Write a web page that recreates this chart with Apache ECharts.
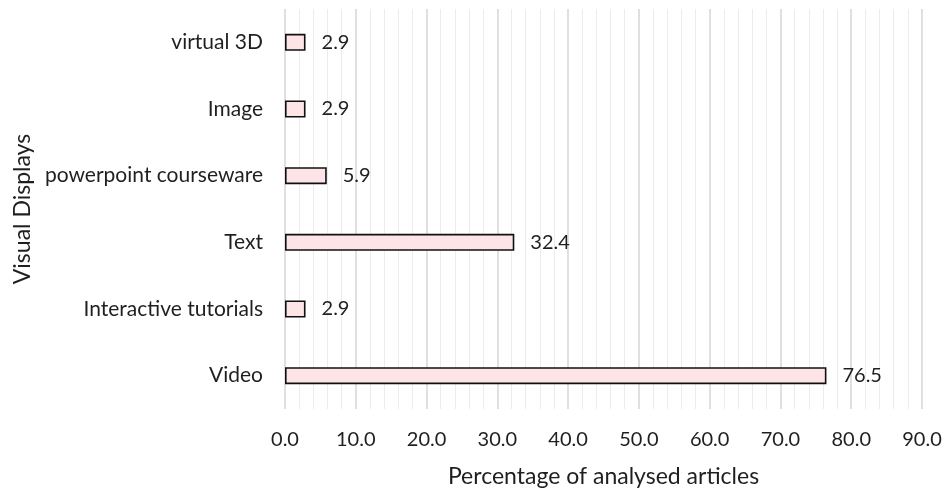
<!DOCTYPE html>
<html><head><meta charset="utf-8">
<script src="https://cdn.jsdelivr.net/npm/echarts@6/dist/echarts.min.js"></script>
<style>html,body{margin:0;padding:0;background:#fff}#c{width:943px;height:489px}</style>
</head><body><div id="c"></div>
<script>
const categories = ['Video', 'Interactive tutorials', 'Text', 'powerpoint courseware', 'Image', 'virtual 3D'];
const values = [76.5, 2.9, 32.4, 5.9, 2.9, 2.9];
const xTicks = { min: 0, max: 90, interval: 10 };
const FONT = 'Lato';
const TXT = '#1f1f1f';
const chart = echarts.init(document.getElementById('c'), null, { renderer: 'canvas' });
chart.setOption({
  animation: false,
  grid: { left: 285, right: 21, top: 9, bottom: 80, containLabel: false, outerBoundsMode: 'none' },
  xAxis: {
    type: 'value', min: xTicks.min, max: xTicks.max, interval: xTicks.interval,
    name: 'Percentage of analysed articles', nameLocation: 'middle', nameGap: 56,
    nameTextStyle: { fontFamily: FONT, fontSize: 23, color: TXT },
    axisLine: { show: false }, axisTick: { show: false },
    axisLabel: { fontFamily: FONT, fontSize: 20, color: TXT, margin: 21, formatter: v => v.toFixed(1) },
    splitLine: { show: true, lineStyle: { color: '#d6d6d6', width: 1.5 } },
    minorTick: { show: false, splitNumber: 5 },
    minorSplitLine: { show: true, lineStyle: { color: '#ececec', width: 1 } }
  },
  yAxis: {
    type: 'category', data: categories,
    name: 'Visual Displays', nameLocation: 'middle', nameGap: 250, nameRotate: 90,
    nameTextStyle: { fontFamily: FONT, fontSize: 23, color: TXT },
    axisLine: { show: false }, axisTick: { show: false },
    axisLabel: { fontFamily: FONT, fontSize: 21, color: TXT, margin: 22 },
    splitLine: { show: false }
  },
  series: [{
    type: 'bar', data: values, barWidth: 17,
    itemStyle: { color: '#fde4e6', borderColor: '#111', borderWidth: 1.6 },
    label: { show: true, position: 'right', distance: 16, fontFamily: FONT, fontSize: 20, color: TXT, formatter: p => p.value.toFixed(1) }
  }]
});
</script></body></html>
